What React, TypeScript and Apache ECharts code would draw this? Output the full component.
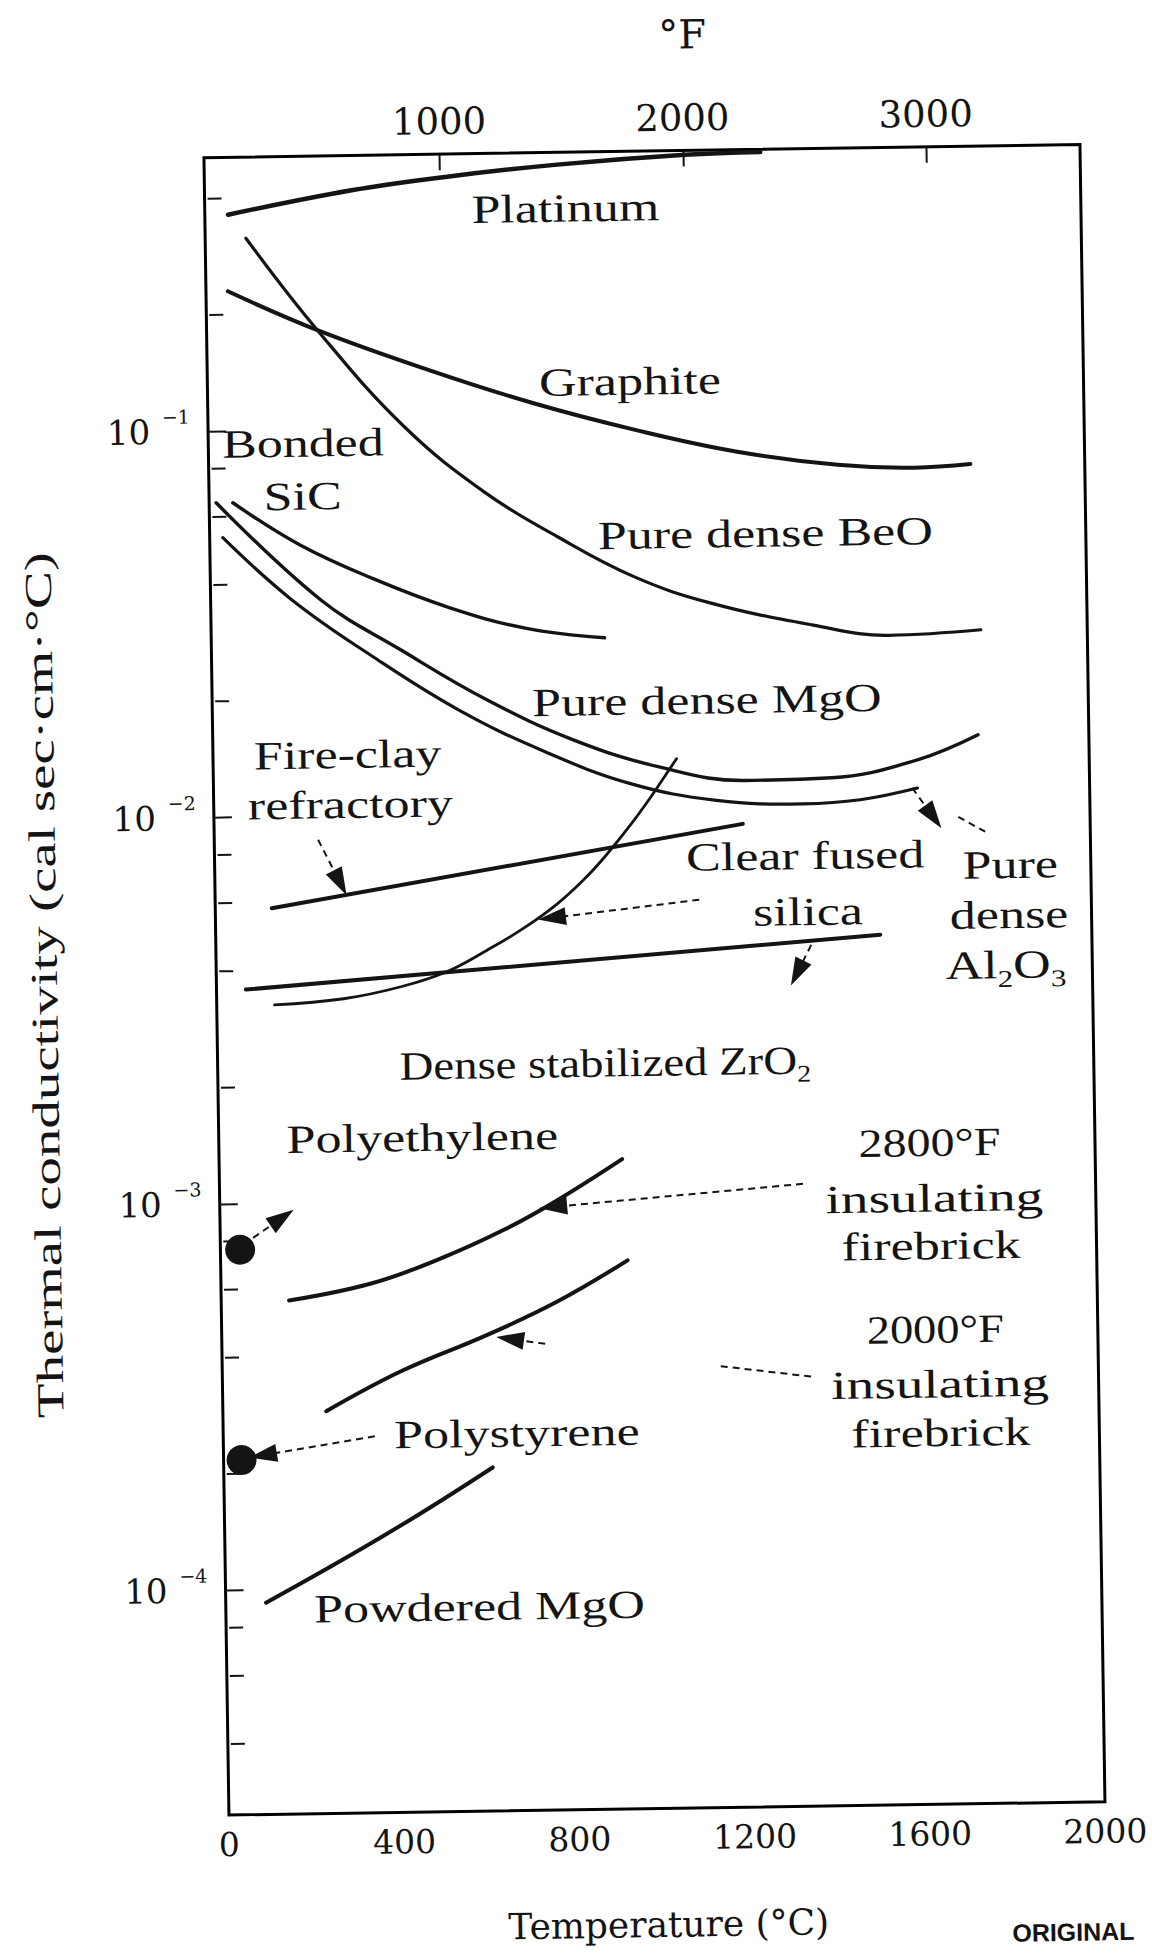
import React, { useEffect, useRef } from "react";
import * as echarts from "echarts";

// ---------------- data: temperature (°C) vs thermal conductivity (cal/sec·cm·°C) ----------------
const X_MIN_C = 0;
const X_MAX_C = 2000;
const X_INTERVAL_C = 400;
const F_LABELS = [1000, 2000, 3000];
const Y_MIN = 2.62e-5;
const Y_MAX = 0.511;
const MINOR_TICKS = [4e-5, 6e-5, 8e-5, 2e-4, 4e-4, 6e-4, 8e-4, 2e-3, 4e-3, 6e-3, 8e-3, 2e-2, 4e-2, 6e-2, 8e-2, 0.2, 0.4];

const PLATINUM = [[53, 0.363], [339, 0.416], [550, 0.446], [806, 0.475], [1098, 0.498], [1270, 0.503]];
const GRAPHITE = [[50, 0.23], [253, 0.181], [508, 0.141], [742, 0.115], [975, 0.0971], [1204, 0.0846], [1436, 0.0774], [1611, 0.0756], [1739, 0.0769]];
const BEO = [[93, 0.315], [253, 0.181], [448, 0.101], [632, 0.0675], [793, 0.0518], [967, 0.0405], [1140, 0.0344], [1372, 0.0299], [1547, 0.0279], [1757, 0.0286]];
const SIC = [[54, 0.0652], [206, 0.0504], [373, 0.0409], [546, 0.0342], [717, 0.0301], [898, 0.0282]];
const MGO = [[16, 0.0653], [251, 0.0363], [433, 0.0267], [627, 0.0197], [823, 0.0154], [1018, 0.013], [1214, 0.0119], [1411, 0.012], [1608, 0.01325], [1747, 0.0153]];
const AL2O3 = [[30, 0.053], [185, 0.0364], [367, 0.0258], [562, 0.0186], [757, 0.0144], [952, 0.0118], [1148, 0.0106], [1345, 0.0103], [1476, 0.0105], [1607, 0.0112]];
const SILICA = [[132, 0.00326], [290, 0.00336], [421, 0.00359], [526, 0.00391], [619, 0.00443], [698, 0.00499], [778, 0.00577], [844, 0.00672], [891, 0.00765], [951, 0.00924], [998, 0.01088], [1031, 0.01231], [1058, 0.01363]];
const FIRECLAY = [[129, 0.0058], [1207, 0.00919]];
const ZRO2 = [[67, 0.00358], [1517, 0.00469]];
const FIREBRICK_2800 = [[155, 5.59e-4], [345, 6.15e-4], [503, 7.09e-4], [649, 8.37e-4], [768, 9.88e-4], [920, 1.26e-3]];
const FIREBRICK_2000 = [[236, 2.88e-4], [408, 3.63e-4], [605, 4.47e-4], [764, 5.4e-4], [929, 6.89e-4]];
const POWDERED_MGO = [[92, 9.25e-5], [270, 1.19e-4], [442, 1.54e-4], [614, 2.03e-4]];
const POLYETHYLENE = [45, 7.6e-4];
const POLYSTYRENE = [41, 2.17e-4];

// annotation pointers: [from, to] in data coordinates, arrow = draw head at "to"
const POINTERS = [
  { from: [237, 0.00869], to: [286, 0.00671], arrow: true },
  { from: [1105, 0.00587], to: [768, 0.00534], arrow: true },
  { from: [1359, 0.00444], to: [1326, 0.00376], arrow: true },
  { from: [1595, 0.01122], to: [1642, 0.00942], arrow: true },
  { from: [1699, 0.0094], to: [1760, 0.00858], arrow: false },
  { from: [1332, 0.00107], to: [761, 0.000954], arrow: true },
  { from: [1344, 3.39e-4], to: [1127, 3.65e-4], arrow: false },
  { from: [738, 4.22e-4], to: [658, 4.36e-4], arrow: true },
  { from: [346, 2.47e-4], to: [90, 2.23e-4], arrow: true },
  { from: [75, 8.15e-4], to: [142, 9.16e-4], arrow: true },
];

// ---------------- styling ----------------
const INK = "#141414";
const SERIF = "'Liberation Serif', 'DejaVu Serif', serif";
const AXIS_FONT = "'DejaVu Serif', serif";

const SUB_RICH = {
  sub: { fontFamily: SERIF, fontSize: 24, fill: INK, color: INK, padding: [28, 0, 0, 0] },
};

type Lbl = { text: string; x: number; y: number; sx?: number };
const LABELS: Lbl[] = [
  { text: "Platinum", x: 577, y: 207 },
  { text: "Graphite", x: 639, y: 381 },
  { text: "Bonded", x: 311, y: 438 },
  { text: "SiC", x: 310, y: 491 },
  { text: "Pure dense BeO", x: 772, y: 535 },
  { text: "Pure dense MgO", x: 711, y: 701 },
  { text: "Fire-clay", x: 351, y: 750 },
  { text: "refractory", x: 353, y: 800 },
  { text: "Clear fused", x: 807, y: 858 },
  { text: "silica", x: 809, y: 914 },
  { text: "Pure", x: 1012, y: 870 },
  { text: "dense", x: 1010, y: 920 },
  { text: "Al{sub|2}O{sub|3}", x: 1006, y: 970 },
  { text: "Dense stabilized ZrO{sub|2}", x: 604, y: 1062, sx: 1.17 },
  { text: "Polyethylene", x: 420, y: 1134 },
  { text: "2800°F", x: 927, y: 1147, sx: 1.2 },
  { text: "insulating", x: 931, y: 1202, sx: 1.38 },
  { text: "firebrick", x: 927, y: 1250 },
  { text: "2000°F", x: 930, y: 1333, sx: 1.16 },
  { text: "insulating", x: 934, y: 1388, sx: 1.38 },
  { text: "firebrick", x: 934, y: 1437 },
  { text: "Polystyrene", x: 510, y: 1431 },
  { text: "Powdered MgO", x: 470, y: 1604 },
];

function lineSeries(name: string, data: number[][], width: number, smooth: number | boolean) {
  return {
    type: "line",
    name,
    data,
    symbol: "none",
    showSymbol: false,
    smooth,
    silent: true,
    z: 3,
    lineStyle: { color: INK, width, cap: "round" },
  };
}

export default function App() {
  const ref = useRef<HTMLDivElement>(null);

  useEffect(() => {
    const el = ref.current;
    if (!el) return;
    const chart = echarts.init(el, null, { renderer: "svg", width: 1152, height: 1953 });

    const supFormatter = (v: number) => {
      const lg = Math.log10(v);
      const e = Math.round(lg);
      if (Math.abs(lg - e) > 1e-6) return "";
      const ex = e < 0 ? "\u2212" + String(-e) : String(e);
      return "{b|10}{s|" + ex + "}";
    };
    const plain = (v: number) => String(Math.round(v));

    const graphics: any[] = LABELS.map((l) => ({
      type: "text",
      x: l.x,
      y: l.y,
      scaleX: l.sx ?? 1.3,
      silent: true,
      style: {
        text: l.text,
        fontFamily: SERIF,
        fontSize: 40,
        fill: INK,
        align: "center",
        verticalAlign: "middle",
        textAlign: "center",
        textVerticalAlign: "middle",
        rich: SUB_RICH,
      },
    }));

    graphics.push({
      type: "text",
      x: 44,
      y: 976,
      rotation: Math.PI / 2,
      scaleX: 1.5,
      silent: true,
      style: {
        text: "Thermal conductivity (cal sec·cm·°C)",
        fontFamily: SERIF,
        fontSize: 38,
        fill: INK,
        align: "center",
        verticalAlign: "middle",
        textAlign: "center",
        textVerticalAlign: "middle",
      },
    });

    graphics.push({
      type: "text",
      x: 1059,
      y: 1938,
      silent: true,
      style: {
        text: "ORIGINAL",
        fontFamily: "'Liberation Sans', Arial, sans-serif",
        fontWeight: "bold",
        fontSize: 25,
        fill: INK,
        align: "center",
        verticalAlign: "middle",
        textAlign: "center",
        textVerticalAlign: "middle",
      },
    });

    const pointerData = POINTERS.map((p) => [
      { coord: p.from, symbol: "none" },
      { coord: p.to, symbol: p.arrow ? "triangle" : "none", symbolSize: [18, 28] },
    ]);

    const option: any = {
      animation: false,
      backgroundColor: "#ffffff",
      grid: {
        left: 216.4,
        top: 151,
        width: 876.1,
        height: 1657.5,
        show: true,
        borderColor: "#000000",
        borderWidth: 3,
        backgroundColor: "transparent",
        containLabel: false,
        outerBoundsMode: "none",
      },
      xAxis: [
        {
          type: "value",
          min: X_MIN_C,
          max: X_MAX_C,
          interval: X_INTERVAL_C,
          position: "bottom",
          name: "Temperature (°C)",
          nameLocation: "middle",
          nameGap: 98,
          nameTextStyle: { fontFamily: AXIS_FONT, fontSize: 36, color: INK },
          axisLine: { show: false },
          axisTick: { show: false },
          splitLine: { show: false },
          axisLabel: { fontFamily: AXIS_FONT, fontSize: 33, color: INK, margin: 13, formatter: plain },
        },
        {
          type: "value",
          min: X_MIN_C * 1.8 + 32,
          max: X_MAX_C * 1.8 + 32,
          position: "top",
          name: "°F",
          nameLocation: "middle",
          nameGap: 96,
          nameTextStyle: { fontFamily: AXIS_FONT, fontSize: 40, color: INK, padding: [0, 0, 0, 84] },
          axisLine: { show: false },
          splitLine: { show: false },
          axisTick: { show: true, inside: true, length: 16, customValues: F_LABELS, lineStyle: { color: INK, width: 2 } },
          axisLabel: { fontFamily: AXIS_FONT, fontSize: 37, color: INK, margin: 14, customValues: F_LABELS, formatter: plain },
        },
      ],
      yAxis: {
        type: "log",
        min: Y_MIN,
        max: Y_MAX,
        axisLine: { show: false },
        splitLine: { show: false },
        minorTick: { show: false },
        axisTick: { show: true, inside: true, length: 18, lineStyle: { color: INK, width: 2 } },
        axisLabel: {
          showMinLabel: false,
          showMaxLabel: false,
          margin: 18,
          color: INK,
          formatter: supFormatter,
          rich: {
            b: { fontFamily: AXIS_FONT, fontSize: 34, color: INK, lineHeight: 34 },
            s: { fontFamily: AXIS_FONT, fontSize: 19, color: INK, padding: [0, 0, 30, 12] },
          },
        },
      },
      graphic: graphics,
      series: [
        lineSeries("Platinum", PLATINUM, 4.5, 0.4),
        lineSeries("Graphite", GRAPHITE, 4, 0.4),
        lineSeries("Pure dense BeO", BEO, 3.2, 0.4),
        lineSeries("Bonded SiC", SIC, 3.4, 0.4),
        lineSeries("Pure dense MgO", MGO, 3.4, 0.4),
        lineSeries("Pure dense Al2O3", AL2O3, 3.2, 0.4),
        lineSeries("Clear fused silica", SILICA, 2.8, 0.4),
        lineSeries("Fire-clay refractory", FIRECLAY, 4, false),
        lineSeries("Dense stabilized ZrO2", ZRO2, 4, false),
        lineSeries("2800°F insulating firebrick", FIREBRICK_2800, 4, 0.4),
        lineSeries("2000°F insulating firebrick", FIREBRICK_2000, 4, 0.4),
        lineSeries("Powdered MgO", POWDERED_MGO, 4, 0.4),
        {
          type: "scatter",
          name: "Polymers",
          data: [POLYETHYLENE, POLYSTYRENE],
          symbol: "circle",
          symbolSize: 30,
          silent: true,
          z: 4,
          itemStyle: { color: INK, opacity: 1 },
        },
        {
          type: "custom",
          name: "minor ticks",
          coordinateSystem: "cartesian2d",
          silent: true,
          z: 5,
          data: MINOR_TICKS.map((v) => [X_MIN_C, v]),
          renderItem: (_params: any, api: any) => {
            const p = api.coord([X_MIN_C, api.value(1)]);
            return {
              type: "line",
              shape: { x1: p[0] + 3, y1: p[1], x2: p[0] + 17, y2: p[1] },
              style: { stroke: INK, lineWidth: 2 },
            };
          },
        },
        {
          type: "line",
          name: "pointers",
          data: [],
          silent: true,
          markLine: {
            silent: true,
            animation: false,
            symbol: ["none", "triangle"],
            symbolSize: [18, 28],
            label: { show: false },
            emphasis: { disabled: true },
            lineStyle: { color: INK, width: 2, type: [7, 5], opacity: 1 },
            itemStyle: { color: INK },
            data: pointerData,
          },
        },
      ],
    };

    chart.setOption(option);
    return () => {
      chart.dispose();
    };
  }, []);

  return (
    <div
      style={{
        position: "absolute",
        left: 0,
        top: 0,
        width: 1152,
        height: 1953,
        overflow: "hidden",
        background: "#ffffff",
      }}
    >
      <div
        ref={ref}
        style={{
          width: 1152,
          height: 1953,
          transform: "rotate(-0.864deg)",
          transformOrigin: "654.5px 980px",
        }}
      />
    </div>
  );
}
